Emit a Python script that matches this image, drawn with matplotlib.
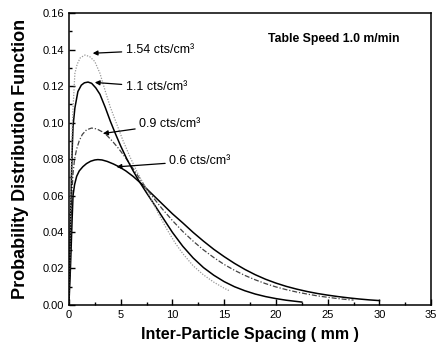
import matplotlib
matplotlib.use("Agg")
import matplotlib.pyplot as plt
from matplotlib.ticker import MultipleLocator

plt.rcParams['font.family'] = ['Liberation Sans', 'DejaVu Sans']

x_060 = [0, 0.15, 0.3, 0.4, 0.55, 0.75, 1.0, 1.35, 1.7, 2.1, 2.5, 2.8, 3.2, 3.7, 4.3, 4.9, 5.5, 6.2, 7.0, 8.0, 9.0, 10, 11, 12, 13, 14, 15, 16, 17, 18, 19, 20, 21, 22, 23, 24, 25, 26, 27, 28, 29, 30]
y_060 = [0, 0.02, 0.045, 0.060, 0.066, 0.0705, 0.0735, 0.0758, 0.0775, 0.0788, 0.0795, 0.0797, 0.0795, 0.0787, 0.0773, 0.0756, 0.0735, 0.0705, 0.0665, 0.061, 0.0555, 0.050, 0.045, 0.0398, 0.0350, 0.0305, 0.0265, 0.0228, 0.0195, 0.0166, 0.0141, 0.0120, 0.0102, 0.0087, 0.0074, 0.0063, 0.0054, 0.0046, 0.0039, 0.0033, 0.0028, 0.0024]

x_090 = [0, 0.15, 0.3, 0.4, 0.55, 0.75, 1.0, 1.3, 1.7, 2.2, 2.7, 3.2, 3.7, 4.2, 4.8, 5.5, 6.2, 6.9, 7.5, 8.2, 9, 10, 11, 12, 13, 14, 15, 16, 17, 18, 19, 20, 21, 22, 23, 24, 25, 26, 27, 27.5]
y_090 = [0, 0.035, 0.062, 0.072, 0.080, 0.0855, 0.090, 0.0935, 0.0960, 0.0970, 0.0965, 0.0950, 0.0928, 0.0898, 0.0858, 0.0805, 0.0748, 0.0688, 0.0638, 0.0585, 0.0528, 0.0463, 0.0403, 0.0350, 0.0302, 0.0260, 0.0222, 0.0190, 0.0162, 0.0138, 0.0117, 0.0099, 0.0084, 0.0071, 0.0060, 0.0050, 0.0042, 0.0035, 0.0029, 0.0027]

x_110 = [0, 0.1, 0.2, 0.3, 0.4, 0.58, 0.87, 1.2, 1.5, 1.85, 2.2, 2.6, 3.0, 3.5, 4.0, 4.5, 5.0, 5.6, 6.2, 6.8, 7.5, 8.2, 9, 10, 11, 12, 13, 14, 15, 16, 17, 18, 19, 20, 21, 22.5]
y_110 = [0, 0.03, 0.058, 0.082, 0.098, 0.108, 0.117, 0.1205, 0.1218, 0.1222, 0.1215, 0.119, 0.1155, 0.1085, 0.1008, 0.0938, 0.0872, 0.0800, 0.0736, 0.0677, 0.0615, 0.0555, 0.0485, 0.0398, 0.0322, 0.0258, 0.0205, 0.0163, 0.0128, 0.0100, 0.0078, 0.0060, 0.0046, 0.0035, 0.0026, 0.0016]

x_154 = [0, 0.1, 0.2, 0.3, 0.4, 0.58, 0.8, 1.1, 1.55, 2.0, 2.5, 3.0, 3.5, 4.0, 4.6, 5.2, 5.9, 6.6, 7.35, 8.0, 8.7, 9.5, 10.3, 11, 12, 13, 14, 15, 15.5]
y_154 = [0, 0.035, 0.068, 0.094, 0.108, 0.127, 0.132, 0.1355, 0.137, 0.1362, 0.1335, 0.1270, 0.1175, 0.1085, 0.0995, 0.0905, 0.0812, 0.0728, 0.0648, 0.0575, 0.0495, 0.0412, 0.0337, 0.0282, 0.0215, 0.0165, 0.0125, 0.0092, 0.0078]

labels = ["1.54 cts/cm³", "1.1 cts/cm³", "0.9 cts/cm³", "0.6 cts/cm³"]

fig = plt.figure(figsize=(4.36, 3.45), dpi=100)
ax = fig.add_axes([0.158, 0.116, 0.831, 0.846])

ax.plot(x_060, y_060, color='black', lw=1.1)
ax.plot(x_090, y_090, color='#444444', lw=0.9, dashes=[4, 1.5, 1, 1.5])
ax.plot(x_110, y_110, color='black', lw=1.1)
ax.plot(x_154, y_154, color='#999999', lw=0.9, linestyle=(0, (1, 1.2)))

ax.set_xlim(0, 35)
ax.set_ylim(0, 0.16)
ax.xaxis.set_major_locator(MultipleLocator(5))
ax.xaxis.set_minor_locator(MultipleLocator(2.5))
ax.yaxis.set_major_locator(MultipleLocator(0.02))
ax.yaxis.set_minor_locator(MultipleLocator(0.01))
ax.set_yticks(ax.get_yticks())
ax.set_yticklabels([f"{v:.2f}" for v in ax.get_yticks()])
ax.set_ylim(0, 0.16)
ax.tick_params(which='both', direction='in', labelsize=8, width=1)
ax.tick_params(which='major', length=4)
ax.tick_params(which='minor', length=2.5)
for s in ax.spines.values():
    s.set_linewidth(1.1)

ax.set_xlabel("Inter-Particle Spacing ( mm )", fontsize=11.5, fontweight='bold', labelpad=5)
ax.set_ylabel("Probability Distribution Function", fontsize=13, fontweight='bold', labelpad=10)

arrow = dict(arrowstyle='-|>', color='black', lw=0.9, mutation_scale=7, shrinkA=1, shrinkB=0)
ax.annotate(labels[0], xy=(2.3, 0.138), xytext=(5.5, 0.1397), fontsize=9, va='center', arrowprops=arrow)
ax.annotate(labels[1], xy=(2.5, 0.122), xytext=(5.5, 0.1195), fontsize=9, va='center', arrowprops=arrow)
ax.annotate(labels[2], xy=(3.3, 0.094), xytext=(6.8, 0.0992), fontsize=9, va='center', arrowprops=arrow)
ax.annotate(labels[3], xy=(4.6, 0.0757), xytext=(9.7, 0.079), fontsize=9, va='center', arrowprops=arrow)

ax.text(19.2, 0.1458, "Table Speed 1.0 m/min", fontsize=8.8, fontweight='bold', va='center')

fig.savefig("out.png", dpi=100)
